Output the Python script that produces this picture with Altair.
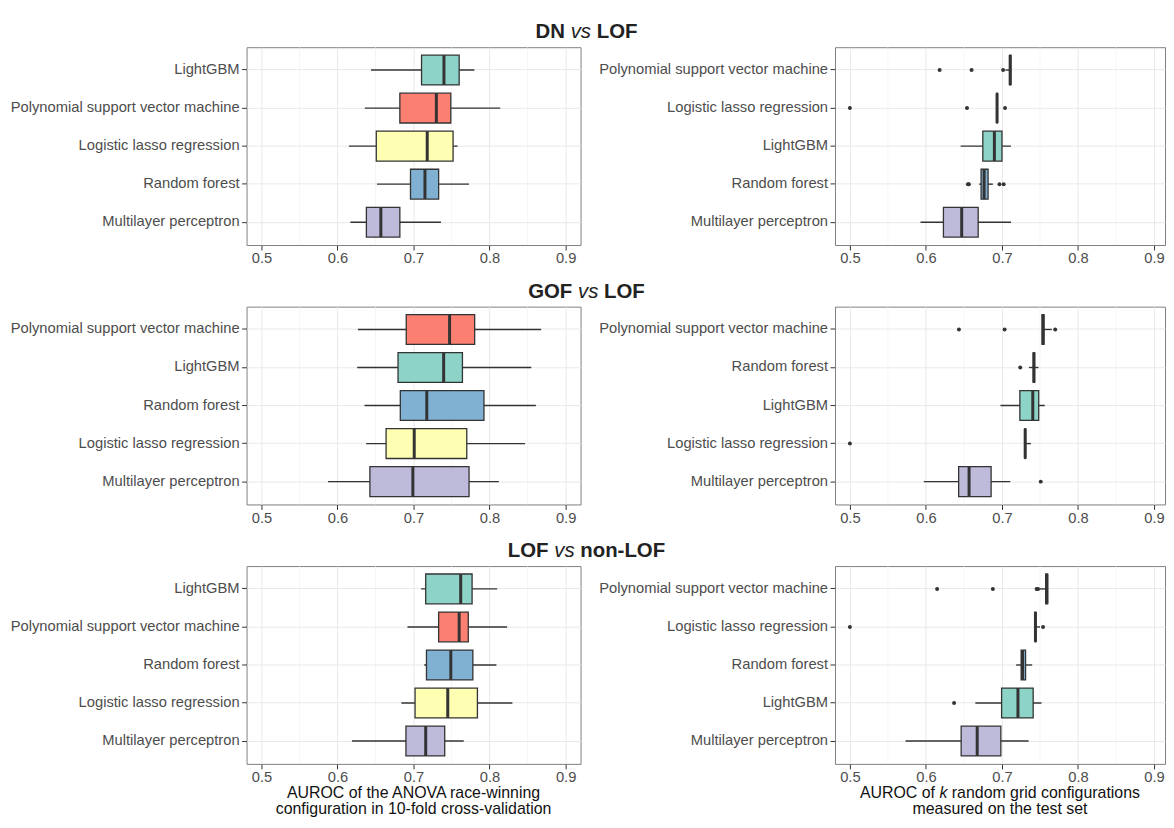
import altair as alt
import pandas as pd

LGB = "LightGBM"
SVM = "Polynomial support vector machine"
LLR = "Logistic lasso regression"
RF = "Random forest"
MLP = "Multilayer perceptron"

model_names = [LGB, LLR, MLP, SVM, RF]
model_colors = ["#8dd3c7", "#ffffb3", "#bebada", "#fb8072", "#80b1d3"]

major_ticks = [0.5, 0.6, 0.7, 0.8, 0.9]
minor_ticks = [0.55, 0.65, 0.75, 0.85]

# ---- DN vs LOF : cross-validation ----
dn_cv_models = [LGB, SVM, LLR, RF, MLP]
dn_cv_lo = [0.644, 0.636, 0.615, 0.652, 0.617]
dn_cv_q1 = [0.7105, 0.682, 0.651, 0.696, 0.638]
dn_cv_med = [0.740, 0.730, 0.718, 0.715, 0.657]
dn_cv_q3 = [0.760, 0.749, 0.752, 0.733, 0.682]
dn_cv_hi = [0.780, 0.814, 0.758, 0.773, 0.736]
dn_cv_out_model = []
dn_cv_out_value = []

# ---- DN vs LOF : test set ----
dn_te_models = [SVM, LLR, LGB, RF, MLP]
dn_te_lo = [0.7045, 0.6930, 0.6456, 0.6700, 0.5928]
dn_te_q1 = [0.7100, 0.6930, 0.6748, 0.6725, 0.6230]
dn_te_med = [0.7108, 0.6935, 0.6900, 0.6765, 0.6470]
dn_te_q3 = [0.7116, 0.6940, 0.7000, 0.6817, 0.6687]
dn_te_hi = [0.7116, 0.6940, 0.7118, 0.6880, 0.7118]
dn_te_out_model = [SVM, SVM, SVM, LLR, LLR, LLR, RF, RF, RF, RF]
dn_te_out_value = [0.618, 0.660, 0.7015, 0.500, 0.654, 0.704, 0.6552, 0.6565, 0.6967, 0.7022]

# ---- GOF vs LOF : cross-validation ----
gof_cv_models = [SVM, LGB, RF, LLR, MLP]
gof_cv_lo = [0.6268, 0.6259, 0.6355, 0.6377, 0.5876]
gof_cv_q1 = [0.6904, 0.6796, 0.6826, 0.6639, 0.6426]
gof_cv_med = [0.7474, 0.7396, 0.7174, 0.7009, 0.6991]
gof_cv_q3 = [0.7804, 0.7643, 0.7926, 0.7700, 0.7730]
gof_cv_hi = [0.8678, 0.8548, 0.8609, 0.8465, 0.8122]
gof_cv_out_model = []
gof_cv_out_value = []

# ---- GOF vs LOF : test set ----
gof_te_models = [SVM, RF, LGB, LLR, MLP]
gof_te_lo = [0.7528, 0.7355, 0.6980, 0.7300, 0.5972]
gof_te_q1 = [0.7528, 0.7412, 0.7235, 0.7300, 0.6430]
gof_te_med = [0.7540, 0.7420, 0.7405, 0.7305, 0.6567]
gof_te_q3 = [0.7552, 0.7428, 0.7483, 0.7310, 0.6857]
gof_te_hi = [0.7655, 0.7480, 0.7563, 0.7380, 0.7109]
gof_te_out_model = [SVM, SVM, SVM, RF, LLR, MLP]
gof_te_out_value = [0.6434, 0.7035, 0.7700, 0.724, 0.500, 0.751]

# ---- LOF vs non-LOF : cross-validation ----
lof_cv_models = [LGB, SVM, RF, LLR, MLP]
lof_cv_lo = [0.710, 0.692, 0.714, 0.684, 0.619]
lof_cv_q1 = [0.716, 0.733, 0.717, 0.702, 0.690]
lof_cv_med = [0.762, 0.760, 0.749, 0.745, 0.716]
lof_cv_q3 = [0.777, 0.772, 0.778, 0.784, 0.741]
lof_cv_hi = [0.810, 0.823, 0.809, 0.830, 0.766]
lof_cv_out_model = []
lof_cv_out_value = []

# ---- LOF vs non-LOF : test set ----
lof_te_models = [SVM, LLR, RF, LGB, MLP]
lof_te_lo = [0.7500, 0.7435, 0.7187, 0.6650, 0.5732]
lof_te_q1 = [0.7575, 0.7435, 0.7252, 0.6995, 0.6463]
lof_te_med = [0.7590, 0.7440, 0.7270, 0.7210, 0.6674]
lof_te_q3 = [0.7600, 0.7445, 0.7310, 0.7410, 0.6985]
lof_te_hi = [0.7600, 0.7500, 0.7397, 0.7520, 0.7350]
lof_te_out_model = [SVM, SVM, SVM, SVM, LLR, LLR, LGB]
lof_te_out_value = [0.6147, 0.688, 0.7455, 0.7475, 0.500, 0.754, 0.637]

row_titles = [("DN", "LOF"), ("GOF", "LOF"), ("LOF", "non-LOF")]
cv_title = ["AUROC of the ANOVA race-winning", "configuration in 10-fold cross-validation"]
test_title = ["AUROC of", "k", "random grid configurations", "measured on the test set"]

# ---------------- layout helpers ----------------
W_L, W_R, H = 336, 332, 199
PX_PER_UNIT = 765.0
X_MIN = 0.4804
FONT = "Liberation Sans"
DARK = "#333333"

REG = {" ": 278, "A": 667, "U": 722, "R": 722, "O": 778, "C": 722, "o": 556, "f": 278,
       "k": 500, "r": 333, "a": 556, "n": 556, "d": 556, "m": 833, "g": 556, "i": 222,
       "c": 500, "t": 278, "s": 500, "u": 556, "e": 556, "h": 556, "l": 222, "v": 500}
BOLD = {" ": 278, "D": 722, "N": 722, "L": 611, "O": 778, "F": 611, "G": 778,
        "n": 611, "o": 611, "-": 333}


def tw(s, table, size):
    return sum(table.get(ch, 556) for ch in s) / 1000.0 * size


one = pd.DataFrame({"a": [0]})


def text_piece(txt, x, y, size, weight="normal", style="normal", align="left", color="#111111"):
    return alt.Chart(one).mark_text(
        text=txt, font=FONT, fontSize=size, fontWeight=weight, fontStyle=style,
        align=align, baseline="alphabetic", color=color
    ).encode(x=alt.value(x), y=alt.value(y))


def row_title_layers(a, b):
    size = 20.5
    center = 342
    sp = tw(" ", REG, size)
    w1 = tw(a, BOLD, size)
    wv = tw("vs", REG, size)
    w3 = tw(b, BOLD, size)
    total = w1 + sp + wv + sp + w3
    x0 = center - total / 2
    return [
        text_piece(a, x0, -9, size, weight="bold", color="#222222"),
        text_piece("vs", x0 + w1 + sp, -9, size, style="italic", color="#222222"),
        text_piece(b, x0 + w1 + sp + wv + sp, -9, size, weight="bold", color="#222222"),
    ]


color_enc = alt.Color("model:N", scale=alt.Scale(domain=model_names, range=model_colors), legend=None)


def panel(width, models, lo, q1, med, q3, hi, out_m, out_v, extra=()):
    xscale = alt.Scale(domain=[X_MIN, X_MIN + width / PX_PER_UNIT], nice=False, zero=False)
    xaxis = alt.Axis(title=None, values=major_ticks, format=".1f", grid=True,
                     tickSize=5, labelPadding=1)
    yscale = alt.Scale(domain=models, paddingInner=0, paddingOuter=0.1)
    yaxis = alt.Axis(title=None, grid=True, bandPosition=0.5, tickSize=5,
                     labelPadding=2.5, labelLimit=400)

    def X(f):
        return alt.X(f, type="quantitative", scale=xscale, axis=xaxis)

    def Y():
        return alt.Y("model:N", scale=yscale, axis=yaxis, sort=models)

    df = pd.DataFrame({"model": models, "lo": lo, "q1": q1, "med": med, "q3": q3, "hi": hi})
    base = alt.Chart(df)
    minor = alt.Chart(pd.DataFrame({"v": minor_ticks})).mark_rule(
        color="#f1f1f1", strokeWidth=0.7).encode(x=X("v"))
    whisk = base.mark_rule(color=DARK, strokeWidth=1.4).encode(x=X("lo"), x2="hi", y=Y())
    box = base.mark_bar(size=30, stroke=DARK, strokeWidth=1.3, opacity=1).encode(
        x=X("q1"), x2="q3", y=Y(), color=color_enc)
    medl = base.mark_tick(color=DARK, thickness=3, size=30, opacity=1).encode(x=X("med"), y=Y())
    layers = [minor, whisk, box, medl]
    if out_v:
        odf = pd.DataFrame({"model": out_m, "v": out_v})
        layers.append(alt.Chart(odf).mark_circle(size=16, color=DARK, opacity=1).encode(x=X("v"), y=Y()))
    layers.extend(extra)
    return alt.layer(*layers).properties(width=width, height=H)


# invisible anchor to fix the chart origin
anchor = alt.Chart(one).mark_rule(opacity=0, strokeOpacity=0).encode(
    x=alt.value(-239), x2=alt.value(-238), y=alt.value(-36), y2=alt.value(-35))

# x axis titles for bottom row
TS = 16
Y1, Y2 = H + 34, H + 50
cv_title_layers = [
    text_piece(cv_title[0], W_L / 2, Y1, TS, align="center"),
    text_piece(cv_title[1], W_L / 2, Y2, TS, align="center"),
]
wA = tw(test_title[0] + " ", REG, TS)
wk = tw(test_title[1] + " ", REG, TS)
wB = tw(test_title[2], REG, TS)
tx0 = W_R / 2 - (wA + wk + wB) / 2
test_title_layers = [
    text_piece(test_title[0], tx0, Y1, TS),
    text_piece(test_title[1], tx0 + wA, Y1, TS, style="italic"),
    text_piece(test_title[2], tx0 + wA + wk, Y1, TS),
    text_piece(test_title[3], W_R / 2, Y2, TS, align="center"),
]

p1 = panel(W_L, dn_cv_models, dn_cv_lo, dn_cv_q1, dn_cv_med, dn_cv_q3, dn_cv_hi,
           dn_cv_out_model, dn_cv_out_value, extra=[anchor] + row_title_layers(*row_titles[0]))
p2 = panel(W_R, dn_te_models, dn_te_lo, dn_te_q1, dn_te_med, dn_te_q3, dn_te_hi,
           dn_te_out_model, dn_te_out_value)
p3 = panel(W_L, gof_cv_models, gof_cv_lo, gof_cv_q1, gof_cv_med, gof_cv_q3, gof_cv_hi,
           gof_cv_out_model, gof_cv_out_value, extra=row_title_layers(*row_titles[1]))
p4 = panel(W_R, gof_te_models, gof_te_lo, gof_te_q1, gof_te_med, gof_te_q3, gof_te_hi,
           gof_te_out_model, gof_te_out_value)
p5 = panel(W_L, lof_cv_models, lof_cv_lo, lof_cv_q1, lof_cv_med, lof_cv_q3, lof_cv_hi,
           lof_cv_out_model, lof_cv_out_value, extra=row_title_layers(*row_titles[2]) + cv_title_layers)
p6 = panel(W_R, lof_te_models, lof_te_lo, lof_te_q1, lof_te_med, lof_te_q3, lof_te_hi,
           lof_te_out_model, lof_te_out_value, extra=test_title_layers)

chart = alt.concat(p1, p2, p3, p4, p5, p6, columns=2,
                   spacing={"row": 62, "column": 256}, bounds="flush").resolve_scale(
    y="independent", x="independent"
).properties(padding=0, background="white").configure_view(
    stroke="#7f7f7f", strokeWidth=1
).configure_axis(
    labelFont=FONT, labelFontSize=14.8, labelColor="#4d4d4d",
    tickColor=DARK, tickWidth=1, domain=False,
    gridColor="#e9e9e9", gridWidth=1
)

chart.save("out.html", embed_options={"renderer": "svg", "actions": False})
